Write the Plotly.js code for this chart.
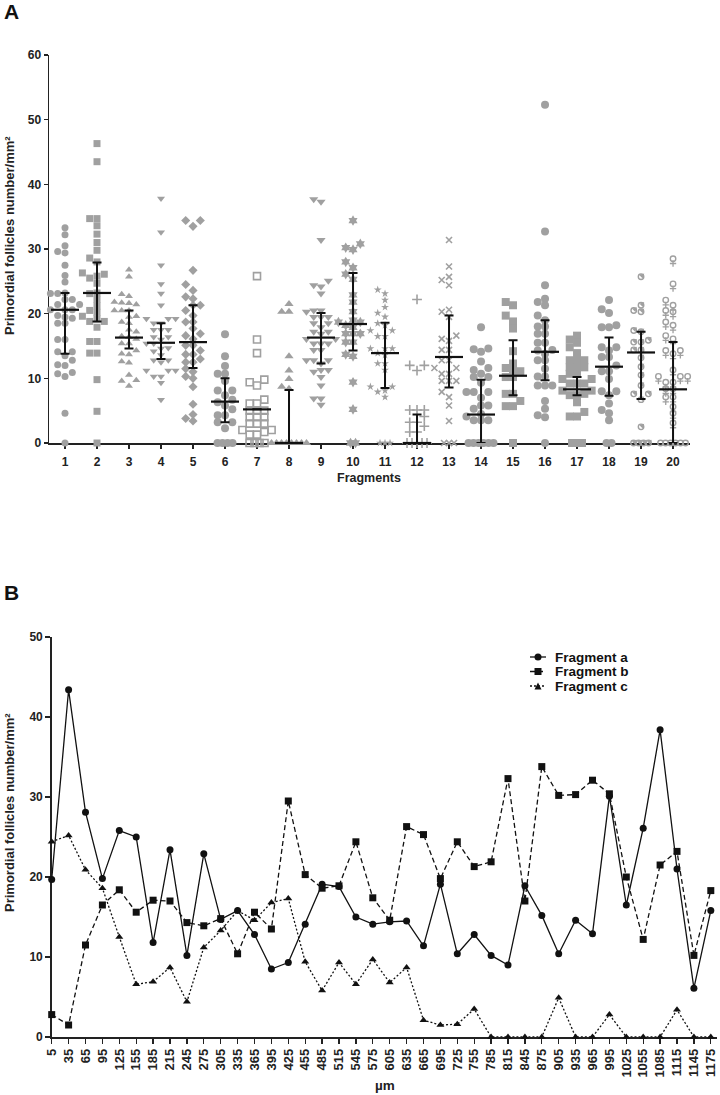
<!DOCTYPE html>
<html><head><meta charset="utf-8">
<script src="https://cdn.plot.ly/plotly-3.0.1.min.js"></script>
<style>html,body{margin:0;padding:0;background:#fff}#chart{width:720px;height:1095px}</style>
</head><body><div id="chart"></div>
<script>
// ---------- Panel A data ----------
const fragmentLabels = ["1","2","3","4","5","6","7","8","9","10","11","12","13","14","15","16","17","18","19","20"];
const frag1 = [33.3,32.2,30.5,29.6,29.4,27.5,25.9,24.9,23.1,23.1,23.2,22.2,22.2,21.4,21.4,21.4,20.6,20.6,20.6,19.7,19.5,19.3,18.5,18.5,16.0,16.0,14.1,14.1,13.5,12.8,12.1,12.0,10.9,10.3,10.7,4.6,0];
const frag2 = [46.3,43.5,34.7,34.7,33.6,32.3,31.0,29.8,28.6,28.0,26.3,26.1,25.8,25.5,24.7,23.1,23.2,22.2,21.2,20.5,20.2,19.6,19.2,18.8,18.8,17.9,15.7,15.7,13.9,13.9,9.8,4.9,0];
const frag3 = [26.8,25.7,23.0,22.7,21.8,21.7,21.6,21.4,20.5,20.5,20.5,19.6,19.5,18.7,18.5,17.5,17.2,16.4,16.5,16.1,15.4,15.4,14.3,13.8,13.7,12.6,12.4,10.5,9.7,9.6,8.8];
const frag4 = [37.8,32.6,27.5,24.6,23.1,21.3,19.2,19.2,19.2,18.5,18.5,17.5,17.5,17.5,16.4,16.0,16.4,15.4,15.4,14.6,14.7,14.2,13.6,12.8,12.8,12.5,11.2,11.2,11.2,10.3,10.3,9.3,6.7];
const frag5 = [34.4,34.4,33.5,26.7,24.5,23.6,22.6,22.3,21.3,21.3,20.5,19.7,18.7,18.7,17.7,16.9,16.6,16.1,15.1,15.1,14.3,13.7,13.7,13.0,12.5,12.5,11.5,11.0,10.3,10.0,8.7,6.0,4.4,3.8,3.4];
const frag6 = [16.8,13.4,11.9,10.7,10.7,9.6,8.1,8.1,7.4,6.7,6.3,5.8,5.2,4.3,4.3,3.2,3.2,2.3,0,0,0,0];
const frag7 = [25.8,16.0,13.9,9.8,9.4,8.9,6.7,6.1,6.1,5.0,5.0,5.0,4.0,4.0,4.0,3.0,3.0,3.0,2.0,2.0,1.7,1.3,1.3,0,0,0,0];
const frag8 = [21.5,20.3,20.3,13.4,11.2,9.9,8.7,8.4,0,0,0,0,0,0,0,0];
const frag9 = [37.7,37.3,31.4,25.1,24.4,24.2,23.1,20.5,20.3,20.5,19.5,19.5,19.5,18.5,17.9,18.5,17.2,16.9,17.2,16.1,16.1,15.4,15.4,15.4,14.4,14.4,12.8,12.8,12.8,12.3,11.3,11.3,11.0,10.2,8.9,6.9,6.9,5.9];
const frag10 = [34.4,30.8,30.2,29.9,28.0,27.1,26.1,25.3,22.9,21.8,20.3,18.7,19.0,18.7,18.2,17.9,16.9,16.9,16.9,15.6,15.6,13.7,13.4,9.4,5.2,0,0];
const frag11 = [23.7,23.1,22.1,21.0,20.1,19.5,18.5,18.2,17.4,17.4,16.5,16.5,14.6,14.6,14.6,13.9,13.6,12.3,12.3,11.3,8.7,8.7,8.1,7.9,7.1,0,0,0];
const frag12 = [22.2,12.0,12.0,11.2,5.1,5.1,5.1,4.1,3.2,3.2,2.6,1.7,1.7,0,0,0,0,0];
const frag13 = [31.4,27.3,25.7,25.2,24.4,20.6,20.3,19.5,16.6,16.1,15.8,14.4,14.4,12.8,12.8,11.6,11.6,10.7,10.7,9.6,9.6,9.6,7.9,7.1,5.8,3.4,0,0,0];
const frag14 = [17.9,14.6,14.5,14.1,12.6,11.6,11.3,10.7,10.2,10.2,9.3,7.9,7.9,7.9,7.0,5.8,5.8,5.3,4.5,4.1,3.5,3.5,3.5,0,0,0,0,0,0];
const frag15 = [21.8,21.3,19.7,18.8,17.7,14.2,12.3,11.6,11.3,11.1,10.2,10.2,7.6,7.6,6.5,5.7,5.7,0];
const frag16 = [52.3,32.7,24.4,22.3,21.8,21.3,19.7,19.0,18.0,18.0,16.9,16.9,15.5,15.5,14.4,14.3,13.8,12.8,12.8,11.5,10.3,10.3,8.9,8.9,8.9,6.5,5.3,4.3,4.0,0];
const frag17 = [16.6,16.0,14.8,15.5,13.9,12.8,12.8,12.8,11.7,11.7,11.7,10.7,10.7,9.9,9.9,9.2,9.2,9.2,8.1,8.1,7.6,7.4,7.4,6.3,4.8,4.1,4.1,0,0,0];
const frag18 = [22.1,20.7,20.1,18.2,17.9,17.9,14.8,14.8,14.3,13.3,13.3,12.0,11.1,11.1,9.9,8.0,8.0,7.4,6.1,5.1,4.6,3.5,0,0];
const frag19 = [25.7,21.3,20.5,20.3,17.4,17.2,15.9,15.6,15.6,14.4,14.4,13.2,11.8,10.5,8.9,7.6,7.6,6.7,2.5,0,0,0,0];
const frag20 = [28.5,24.6,22.1,21.3,20.5,20.3,18.7,18.2,16.6,16.1,14.3,14.3,13.8,11.3,10.3,10.3,10.3,9.4,9.4,8.4,8.4,7.1,7.1,5.6,4.6,3.1,0,0,0,0,0,0];
const medians = [20.6,23.2,16.3,15.5,15.6,6.4,5.2,0,16.3,18.4,13.9,0,13.3,4.4,10.4,14.1,8.3,11.8,14.0,8.3];
const upperQ  = [23.2,27.9,20.5,18.5,21.3,10.0,5.2,8.2,20.1,26.3,18.6,4.4,19.7,9.8,15.9,19.0,10.2,16.3,17.2,15.6];
const lowerQ  = [13.8,18.8,14.6,13.0,11.6,3.2,5.2,0,12.3,14.3,8.5,0,8.6,0,7.4,9.7,7.4,7.3,6.8,0];

// ---------- Panel B data ----------
const positions = [5,35,65,95,125,155,185,215,245,275,305,335,365,395,425,455,485,515,545,575,605,635,665,695,725,755,785,815,845,875,905,935,965,995,1025,1055,1085,1115,1145,1175];
const fragmentA = [19.7,43.4,28.1,19.8,25.8,25.0,11.8,23.4,10.2,22.9,14.7,15.8,12.8,8.5,9.3,14.1,19.1,18.8,15.0,14.1,14.4,14.5,11.4,19.1,10.4,12.8,10.2,9.0,18.9,15.2,10.4,14.6,12.9,30.1,16.5,26.1,38.4,21.0,6.1,15.8];
const fragmentB = [2.8,1.5,11.5,16.5,18.4,15.6,17.1,17.0,14.3,13.9,14.8,10.4,15.6,13.5,29.5,20.3,18.6,18.9,24.4,17.4,14.6,26.3,25.3,19.8,24.4,21.3,21.9,32.3,17.0,33.8,30.2,30.3,32.1,30.4,20.0,12.2,21.5,23.2,10.2,18.3];
const fragmentC = [24.4,25.2,20.9,18.6,12.5,6.6,6.9,8.7,4.4,11.2,13.3,15.8,14.6,16.8,17.3,9.4,5.8,9.3,6.6,9.7,6.8,8.7,2.1,1.5,1.6,3.5,0,0,0,0,4.9,0,0,2.8,0,0,0,3.4,0,0];

// ---------- Layout geometry (pixels) ----------
const W = 720, H = 1095;
const px = x => x / W;
const py = y => 1 - y / H;
const A = {left: 49, right: 690, top: 55, bottom: 443, xmin: 0.5, xmax: 20.53, ymax: 60};
const B = {left: 51.7, right: 717, top: 637, bottom: 1037, xmin: 5, xmax: 1186, ymax: 50};
const FONT = "Liberation Sans, Arial, sans-serif";
const GREY = "#a0a0a0";

const fragValues = [frag1,frag2,frag3,frag4,frag5,frag6,frag7,frag8,frag9,frag10,frag11,frag12,frag13,frag14,frag15,frag16,frag17,frag18,frag19,frag20];
const styles = [
  {symbol:"circle", size:7}, {symbol:"square", size:7}, {symbol:"triangle-up", size:7},
  {symbol:"triangle-down", size:7}, {symbol:"diamond", size:7}, {symbol:"circle", size:8},
  {symbol:"square-open", size:7, open:true}, {symbol:"triangle-up", size:8}, {symbol:"triangle-down", size:8},
  {symbol:"hexagram", size:8}, {symbol:"star", size:6}, {symbol:"cross-thin-open", size:7, open:true},
  {symbol:"x-thin-open", size:6, open:true}, {symbol:"circle", size:8}, {symbol:"square", size:8},
  {symbol:"circle", size:8}, {symbol:"square", size:8}, {symbol:"circle", size:8},
  {gender:"male"}, {gender:"female"}
];

const pxPerX = (A.right - A.left) / (A.xmax - A.xmin);
const pxPerY = (A.bottom - A.top) / A.ymax;

// simple beeswarm: spread overlapping points sideways
function swarm(vals, center) {
  const stepPx = 7.3, minDy = 6.3, zeroStep = 5;
  const xs = new Array(vals.length);
  const zeros = [];
  const placed = [];
  const order = [0,-1,1,-2,2,-3,3,-4,4];
  const sorted = vals.map((v,i)=>({v,i})).sort((a,b)=>a.v-b.v);
  for (const p of sorted) {
    if (p.v === 0) { zeros.push(p.i); continue; }
    const ypx = p.v * pxPerY;
    for (const k of order) {
      if (!placed.some(q => q.k === k && Math.abs(q.y - ypx) < minDy)) {
        placed.push({k, y: ypx});
        xs[p.i] = center + k * stepPx / pxPerX;
        break;
      }
    }
  }
  const n = zeros.length;
  zeros.forEach((idx, j) => { xs[idx] = center + (j - (n - 1) / 2) * zeroStep / pxPerX; });
  return xs;
}

const traces = [];
const common = {type:"scatter", mode:"markers", xaxis:"x", yaxis:"y", cliponaxis:false, showlegend:false, hoverinfo:"skip"};
fragValues.forEach((vals, i) => {
  const st = styles[i];
  const xs = swarm(vals, i + 1);
  if (st.gender) {
    // ring of the sex symbol
    traces.push(Object.assign({}, common, {x:xs, y:vals,
      marker:{symbol:"circle-open", size:5.5, color:GREY, line:{color:GREY, width:1.4}}}));
    if (st.gender === "male") {
      traces.push(Object.assign({}, common, {x:xs.map(x => x + 3.2 / pxPerX), y:vals.map(v => v + 3.2 / pxPerY),
        marker:{symbol:"arrow-up", angle:45, size:4.5, color:GREY, line:{width:0}}}));
    } else {
      traces.push(Object.assign({}, common, {x:xs, y:vals.map(v => v - 4.8 / pxPerY),
        marker:{symbol:"cross-thin-open", size:4.5, color:GREY, line:{color:GREY, width:1.3}}}));
    }
  } else {
    traces.push(Object.assign({}, common, {x:xs, y:vals,
      marker: st.open ? {symbol:st.symbol, size:st.size, color:GREY, line:{color:GREY, width:1.6}}
                      : {symbol:st.symbol, size:st.size, color:GREY, line:{width:0}}}));
  }
});
const fragIdx = fragmentLabels.map((_, i) => i + 1);
traces.push(Object.assign({}, common, {x:fragIdx, y:medians,
  marker:{symbol:"line-ew", size:20, line:{color:"#111", width:2.2}},
  error_y:{type:"data", symmetric:false,
    array: upperQ.map((u,i)=>u - medians[i]), arrayminus: lowerQ.map((l,i)=>medians[i] - l),
    color:"#111", thickness:2, width:4.5}}));

// Panel B lines
const lineDefs = [
  {name:"Fragment a", y:fragmentA, symbol:"circle", dash:"solid"},
  {name:"Fragment b", y:fragmentB, symbol:"square", dash:"5px,3px"},
  {name:"Fragment c", y:fragmentC, symbol:"triangle-up", dash:"2px,2px"}
];
lineDefs.forEach(d => {
  traces.push({type:"scatter", mode:"lines+markers", name:d.name, x:positions, y:d.y,
    line:{color:"#111", width:1.3, dash:d.dash},
    marker:{symbol:d.symbol, size:7, color:"#111"},
    xaxis:"x2", yaxis:"y2", cliponaxis:false, showlegend:false});
});

const tickFontA = {family:FONT, size:12, color:"#222", weight:"bold"};
const axisCommon = {showgrid:false, zeroline:false, showline:true, linecolor:"#222", linewidth:1.5,
  ticks:"outside", tickcolor:"#222", tickwidth:1.3, layer:"below traces"};

const annotations = [
  {text:"A", x:px(11), y:py(12), font:{family:FONT, size:21, weight:"bold", color:"#111"}},
  {text:"B", x:px(11), y:py(592), font:{family:FONT, size:21, weight:"bold", color:"#111"}},
  {text:"Primordial follicles number/mm²", x:px(10), y:py(236), textangle:-90, font:{family:FONT, size:13, weight:"bold", color:"#222"}},
  {text:"Primordial follicles number/mm²", x:px(10), y:py(813), textangle:-90, font:{family:FONT, size:13, weight:"bold", color:"#222"}},
  {text:"Fragments", x:px(369), y:py(478), font:{family:FONT, size:12.5, weight:"bold", color:"#222"}},
  {text:"µm", x:px(385), y:py(1085), font:{family:FONT, size:13.5, weight:"bold", color:"#222"}}
].map(a => Object.assign({xref:"paper", yref:"paper", showarrow:false, xanchor:"center", yanchor:"middle"}, a));

// manual legend for panel B
const legendRows = [657, 671.5, 686];
const shapes = [];
lineDefs.forEach((d, i) => {
  const y = legendRows[i];
  annotations.push({text:d.name, xref:"paper", yref:"paper", x:px(553), y:py(y), xanchor:"left", yanchor:"middle",
    showarrow:false, font:{family:FONT, size:13.5, weight:"bold", color:"#111"}});
  shapes.push({type:"line", xref:"paper", yref:"paper", x0:px(530), x1:px(546), y0:py(y), y1:py(y),
    line:{color:"#111", width:1.3, dash:d.dash}});
  const cx = 538, r = 3.5;
  if (d.symbol === "circle") {
    shapes.push({type:"circle", xref:"paper", yref:"paper", x0:px(cx-r), x1:px(cx+r), y0:py(y+r), y1:py(y-r), fillcolor:"#111", line:{width:0}});
  } else if (d.symbol === "square") {
    shapes.push({type:"rect", xref:"paper", yref:"paper", x0:px(cx-r), x1:px(cx+r), y0:py(y+r), y1:py(y-r), fillcolor:"#111", line:{width:0}});
  } else {
    shapes.push({type:"path", xref:"paper", yref:"paper",
      path:`M ${px(cx-r)} ${py(y+r)} L ${px(cx+r)} ${py(y+r)} L ${px(cx)} ${py(y-r)} Z`, fillcolor:"#111", line:{width:0}});
  }
});

const layout = {
  width: W, height: H, autosize:false,
  margin:{l:0, r:0, t:0, b:0},
  paper_bgcolor:"#fff", plot_bgcolor:"rgba(0,0,0,0)",
  showlegend:false,
  xaxis: Object.assign({}, axisCommon, {domain:[px(A.left), px(A.right)], range:[A.xmin, A.xmax], anchor:"y",
    tickmode:"array", tickvals:fragIdx, ticktext:fragmentLabels, ticklen:4, tickfont:tickFontA, ticklabelstandoff:3}),
  yaxis: Object.assign({}, axisCommon, {domain:[py(A.bottom), py(A.top)], range:[0, A.ymax], anchor:"x",
    tickmode:"array", tickvals:[0,10,20,30,40,50,60], ticklen:4, tickfont:tickFontA}),
  xaxis2: Object.assign({}, axisCommon, {domain:[px(B.left), px(B.right)], range:[B.xmin, B.xmax], anchor:"y2",
    tickmode:"array", tickvals:positions, ticktext:positions.map(String), tickangle:-90, ticklen:5,
    tickfont:{family:FONT, size:13, color:"#222", weight:"bold"}}),
  yaxis2: Object.assign({}, axisCommon, {domain:[py(B.bottom), py(B.top)], range:[0, B.ymax], anchor:"x2",
    tickmode:"array", tickvals:[0,10,20,30,40,50], ticklen:5, tickfont:tickFontA}),
  annotations, shapes
};

Plotly.newPlot("chart", traces, layout, {staticPlot:true, displayModeBar:false});
</script></body></html>
